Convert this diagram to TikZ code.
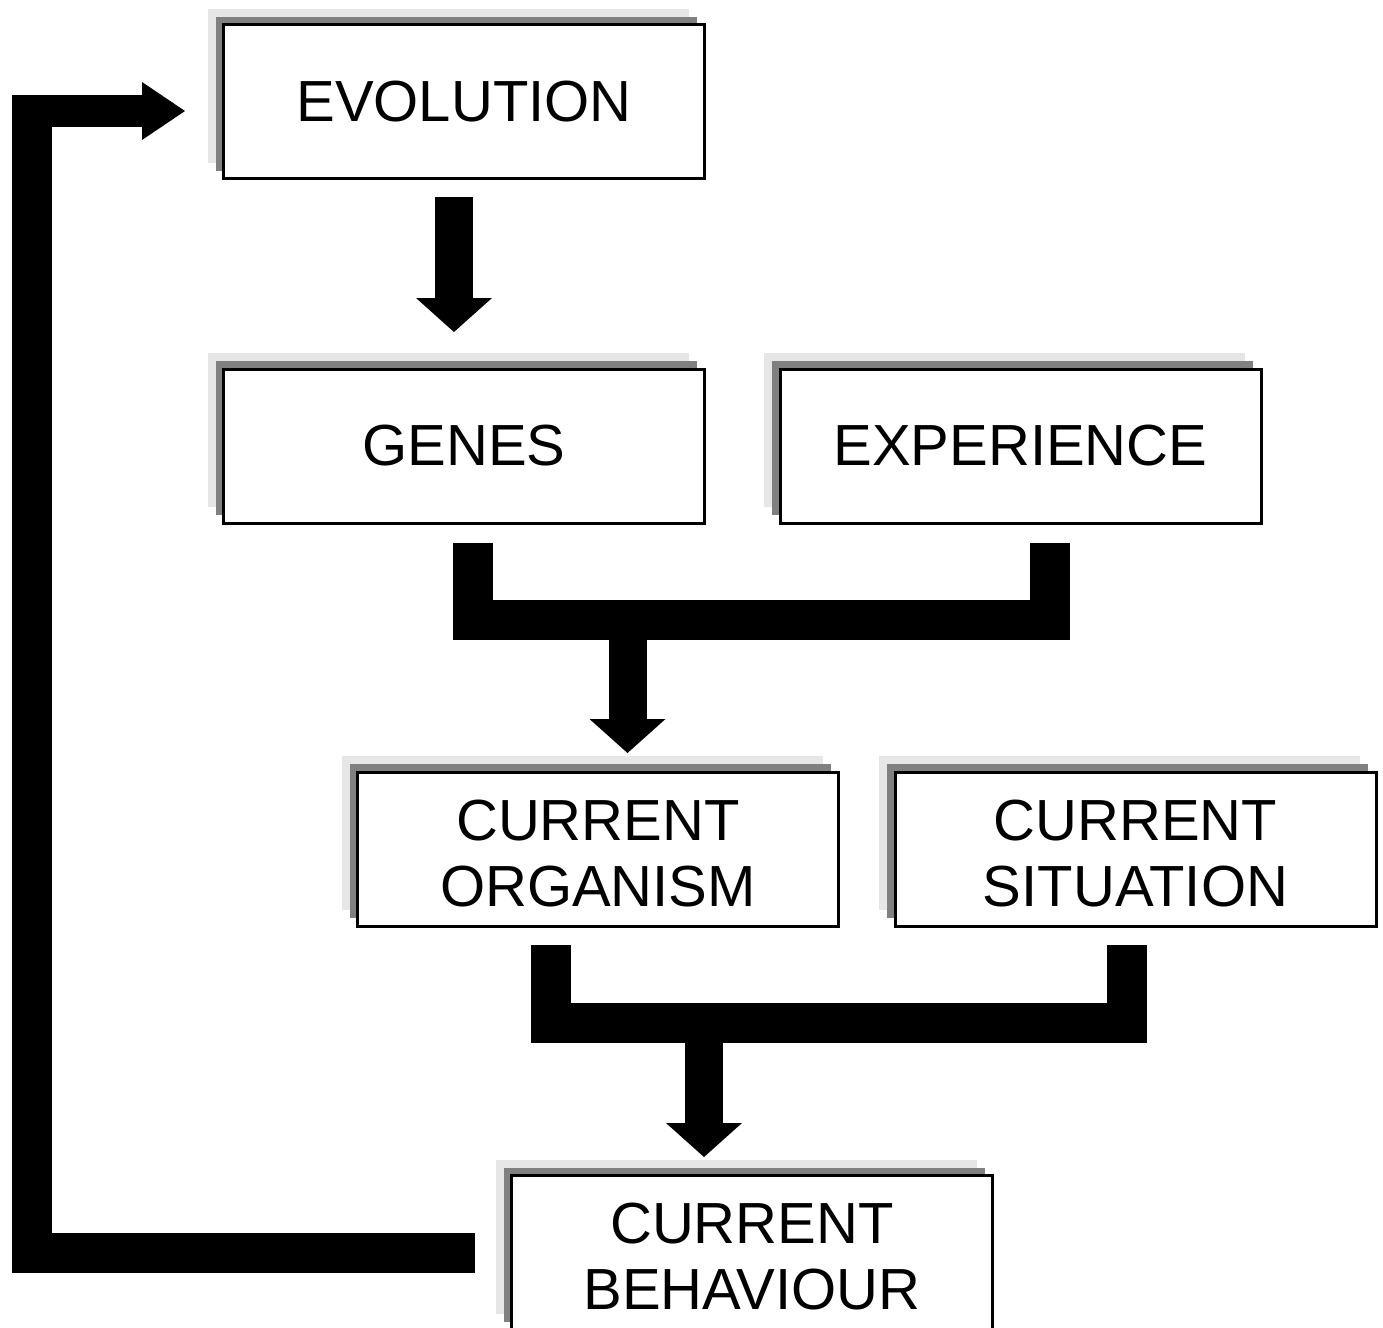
\documentclass[tikz,border=0pt]{standalone}
\usepackage{fontspec}
\setmainfont{Liberation Sans}
\usetikzlibrary{arrows.meta,calc,shadows}
\definecolor{shlight}{HTML}{E6E6E6}
\definecolor{shdark}{HTML}{808080}
\newcommand{\toplinestrut}{\rule{0pt}{24.5pt}}
\begin{document}
\begin{tikzpicture}[x=0.5pt,y=-0.5pt,
  box/.style={draw=black, line width=1.5pt, fill=white,
    minimum width=240.5pt, minimum height=77pt, inner sep=0pt, outer sep=0pt,
    align=center, font=\fontsize{29pt}{33pt}\selectfont,
    general shadow={fill=shlight, draw=none, shadow xshift=-8pt, shadow yshift=8pt},
    general shadow={fill=shdark, draw=none, shadow xshift=-4pt, shadow yshift=4pt}},
  bar/.style={line width=20pt, line join=miter, line cap=butt},
  fatarrow/.style={line width=19pt, line cap=butt,
    -{Triangle[width=38pt,length=17pt,line width=0pt]}},
  fbarrow/.style={line width=16pt, line cap=butt,
    -{Triangle[width=29pt,length=21.5pt,line width=0pt]}},
]
\useasboundingbox (0,0) rectangle (1383,1328);

\node[box] (evo)   at (464,101.5)  {EVOLUTION};
\node[box] (genes) at (464,446)    {GENES};
\node[box] (exp)   at (1020.5,446) {EXPERIENCE};
\node[box] (org)   at (598,849)    {\toplinestrut CURRENT\\ORGANISM};
\node[box] (sit)   at (1135.5,849) {\toplinestrut CURRENT\\SITUATION};
\node[box] (beh)   at (752,1252.5) {\toplinestrut CURRENT\\BEHAVIOUR};

% evolution -> genes
\draw[fatarrow] ($(evo.south)+(-10,18.5)$) -- ($(genes.north)+(-10,-37)$);

% genes + experience -> current organism
\coordinate (g1) at ($(genes.south)+(9,20)$);
\coordinate (e1) at ($(exp.south)+(29,20)$);
\coordinate (j1) at ($(org.north)+(29.5,-152.5)$);
\draw[bar] (g1) -- (g1 |- j1) -- (e1 |- j1) -- (e1);
\draw[fatarrow] (j1) -- ($(org.north)+(29.5,-19)$);

% current organism + current situation -> current behaviour
\coordinate (o1) at ($(org.south)+(-47,19)$);
\coordinate (s1) at ($(sit.south)+(-9,19)$);
\coordinate (j2) at ($(beh.north)+(-48,-153)$);
\draw[bar] (o1) -- (o1 |- j2) -- (s1 |- j2) -- (s1);
\draw[fatarrow] (j2) -- ($(beh.north)+(-48,-18.5)$);

% feedback: current behaviour -> evolution
\coordinate (f1) at ($(beh.west)+(-36.5,0.5)$);
\coordinate (fc) at (32,95);
\coordinate (fa) at (12,111);
\draw[bar] (f1) -- (f1 -| fc) -- (fc);
\draw[fbarrow] (fa) -- ($(evo.west)+(-38.5,9.5)$);
\end{tikzpicture}
\end{document}
